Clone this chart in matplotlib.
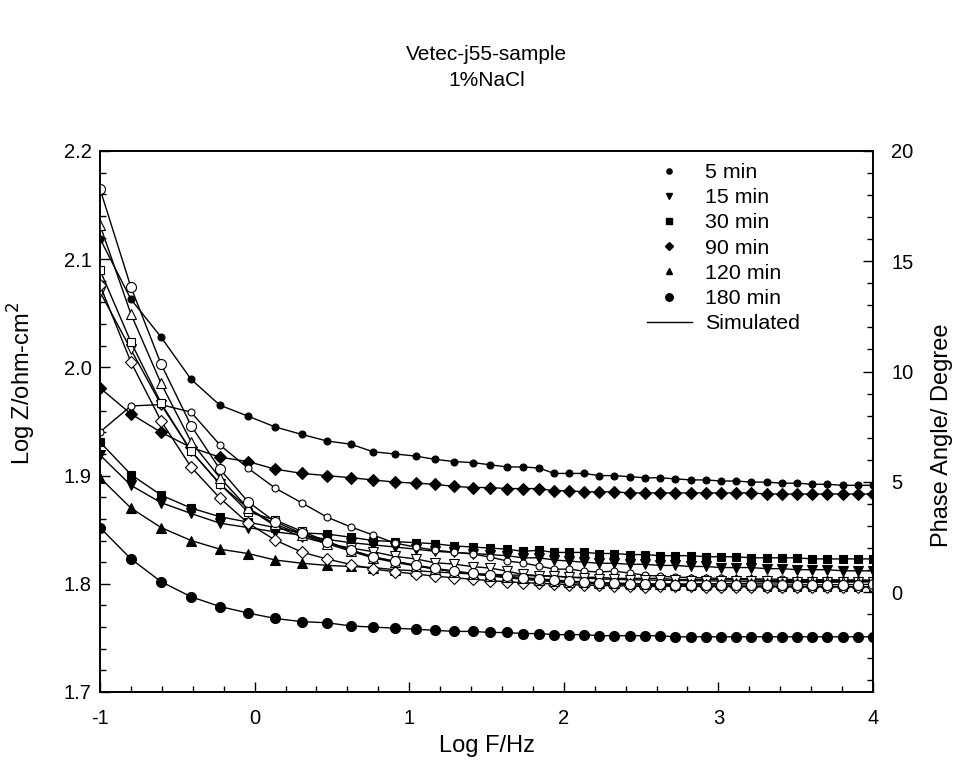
import matplotlib
matplotlib.use("Agg")
import matplotlib.pyplot as plt
from matplotlib.lines import Line2D
from matplotlib.ticker import MultipleLocator, FormatStrFormatter

plt.rcParams['font.family'] = ['Liberation Sans', 'DejaVu Sans']
plt.rcParams['axes.unicode_minus'] = False
FS = 14.5

# ---------------- data ----------------
log_f = [-1.0, -0.8, -0.605, -0.411, -0.224, -0.043, 0.132, 0.307, 0.468, 0.624,
         0.766, 0.908, 1.044, 1.167, 1.290, 1.413, 1.523, 1.633, 1.736, 1.840,
         1.937, 2.034, 2.131, 2.228, 2.325, 2.428, 2.525, 2.622, 2.719, 2.823,
         2.920, 3.017, 3.114, 3.211, 3.314, 3.411, 3.508, 3.605, 3.703, 3.806,
         3.903, 4.0]

labels = ['5 min', '15 min', '30 min', '90 min', '120 min', '180 min']

logz_5 = [2.119, 2.063, 2.028, 1.989, 1.965, 1.955, 1.945, 1.938, 1.932, 1.929,
          1.922, 1.920, 1.918, 1.915, 1.913, 1.912, 1.910, 1.908, 1.908, 1.907,
          1.902, 1.902, 1.902, 1.900, 1.900, 1.899, 1.898, 1.898, 1.897, 1.896,
          1.896, 1.895, 1.895, 1.894, 1.894, 1.893, 1.893, 1.892, 1.892, 1.891,
          1.891, 1.891]
logz_15 = [1.919, 1.891, 1.875, 1.865, 1.856, 1.852, 1.848, 1.845, 1.841, 1.838,
           1.836, 1.834, 1.832, 1.830, 1.829, 1.828, 1.827, 1.826, 1.824, 1.824,
           1.822, 1.821, 1.820, 1.819, 1.819, 1.818, 1.818, 1.817, 1.817, 1.816,
           1.816, 1.815, 1.815, 1.815, 1.814, 1.814, 1.813, 1.813, 1.813, 1.812,
           1.812, 1.812]
logz_30 = [1.931, 1.901, 1.882, 1.870, 1.862, 1.857, 1.852, 1.847, 1.846, 1.843,
           1.840, 1.839, 1.838, 1.837, 1.835, 1.834, 1.833, 1.832, 1.830, 1.831,
           1.829, 1.829, 1.829, 1.828, 1.828, 1.827, 1.827, 1.826, 1.826, 1.826,
           1.825, 1.825, 1.825, 1.824, 1.824, 1.824, 1.824, 1.823, 1.823, 1.823,
           1.823, 1.823]
logz_90 = [1.981, 1.957, 1.940, 1.926, 1.917, 1.913, 1.906, 1.902, 1.900, 1.898,
           1.896, 1.894, 1.893, 1.892, 1.890, 1.889, 1.889, 1.888, 1.888, 1.888,
           1.886, 1.886, 1.885, 1.885, 1.885, 1.884, 1.884, 1.884, 1.884, 1.884,
           1.884, 1.884, 1.884, 1.884, 1.883, 1.883, 1.883, 1.883, 1.883, 1.883,
           1.883, 1.883]
logz_120 = [1.898, 1.870, 1.852, 1.840, 1.832, 1.828, 1.822, 1.819, 1.817, 1.816,
            1.815, 1.813, 1.812, 1.811, 1.810, 1.809, 1.809, 1.808, 1.808, 1.807,
            1.807, 1.806, 1.806, 1.806, 1.805, 1.805, 1.805, 1.805, 1.804, 1.804,
            1.804, 1.804, 1.804, 1.804, 1.803, 1.803, 1.803, 1.803, 1.803, 1.803,
            1.803, 1.803]
logz_180 = [1.852, 1.823, 1.802, 1.788, 1.779, 1.773, 1.768, 1.765, 1.764, 1.761,
            1.760, 1.759, 1.758, 1.757, 1.756, 1.756, 1.755, 1.755, 1.754, 1.754,
            1.753, 1.753, 1.753, 1.752, 1.752, 1.752, 1.752, 1.752, 1.751, 1.751,
            1.751, 1.751, 1.751, 1.751, 1.751, 1.751, 1.751, 1.751, 1.751, 1.751,
            1.751, 1.751]

phase_5 = [7.26, 8.44, 8.50, 8.16, 6.67, 5.62, 4.72, 4.04, 3.40, 2.95,
           2.59, 2.22, 2.04, 1.90, 1.81, 1.72, 1.59, 1.41, 1.32, 1.18,
           1.04, 1.04, 0.95, 0.91, 0.95, 0.86, 0.77, 0.72, 0.68, 0.66,
           0.64, 0.62, 0.61, 0.60, 0.59, 0.58, 0.57, 0.56, 0.56, 0.55,
           0.55, 0.54]
phase_15 = [13.61, 11.0, 8.50, 6.40, 4.90, 3.80, 3.00, 2.50, 2.20, 2.00,
            1.83, 1.62, 1.50, 1.33, 1.27, 1.15, 1.09, 0.95, 0.80, 0.75,
            0.73, 0.68, 0.63, 0.60, 0.58, 0.56, 0.55, 0.54, 0.53, 0.52,
            0.51, 0.50, 0.50, 0.49, 0.49, 0.48, 0.48, 0.48, 0.47, 0.47,
            0.47, 0.47]
phase_30 = [14.60, 11.34, 8.57, 6.39, 4.90, 3.64, 3.27, 2.75, 2.30, 1.90,
            1.60, 1.38, 1.20, 1.05, 0.93, 0.82, 0.73, 0.65, 0.58, 0.52,
            0.47, 0.43, 0.40, 0.37, 0.35, 0.33, 0.31, 0.30, 0.29, 0.28,
            0.27, 0.27, 0.26, 0.26, 0.25, 0.25, 0.25, 0.24, 0.24, 0.24,
            0.24, 0.24]
phase_90 = [13.92, 10.43, 7.76, 5.67, 4.26, 3.13, 2.36, 1.81, 1.50, 1.25,
            1.05, 0.92, 0.82, 0.72, 0.65, 0.58, 0.52, 0.47, 0.43, 0.40,
            0.37, 0.34, 0.32, 0.30, 0.29, 0.28, 0.24, 0.27, 0.26, 0.26,
            0.25, 0.25, 0.25, 0.24, 0.24, 0.24, 0.24, 0.24, 0.24, 0.24,
            0.24, 0.24]
phase_120 = [16.64, 12.61, 9.46, 6.82, 5.18, 3.81, 3.08, 2.60, 2.20, 1.85,
             1.55, 1.35, 1.18, 1.05, 0.93, 0.83, 0.75, 0.68, 0.62, 0.57,
             0.52, 0.48, 0.45, 0.42, 0.40, 0.39, 0.38, 0.37, 0.37, 0.37,
             0.38, 0.38, 0.39, 0.40, 0.41, 0.42, 0.43, 0.44, 0.45, 0.46,
             0.47, 0.48]
phase_180 = [18.28, 13.83, 10.34, 7.55, 5.57, 4.10, 3.19, 2.66, 2.25, 1.90,
             1.60, 1.40, 1.22, 1.08, 0.95, 0.85, 0.78, 0.72, 0.66, 0.60,
             0.55, 0.50, 0.46, 0.42, 0.40, 0.38, 0.36, 0.35, 0.34, 0.33,
             0.33, 0.32, 0.32, 0.32, 0.32, 0.32, 0.33, 0.33, 0.33, 0.34,
             0.34, 0.35]

logz_series = [logz_5, logz_15, logz_30, logz_90, logz_120, logz_180]
phase_series = [phase_5, phase_15, phase_30, phase_90, phase_120, phase_180]

# ---------------- styles ----------------
markers = ['o', 'v', 's', 'D', '^', 'o']
msizes = [5.0, 6.5, 6.0, 6.0, 6.5, 7.2]

fig = plt.figure(figsize=(9.56, 7.75), dpi=100)
ax = fig.add_axes([100/956, 1-692/775, 773/956, 541/775])
ax2 = ax.twinx()

for ys, m, ms in zip(logz_series, markers, msizes):
    ax.plot(log_f, ys, color='k', lw=1.0, marker=m, ms=ms,
            mfc='k', mec='k', mew=0.8)
for ys, m, ms in zip(phase_series, markers, msizes):
    ax2.plot(log_f, ys, color='k', lw=1.0, marker=m, ms=ms,
             mfc='white', mec='k', mew=0.8)

ax.set_xlim(-1, 4)
ax.set_ylim(1.7, 2.2)
ax2.set_ylim(-4.53, 20)

ax.xaxis.set_major_locator(MultipleLocator(1))
ax.xaxis.set_minor_locator(MultipleLocator(0.2))
ax.yaxis.set_major_locator(MultipleLocator(0.1))
ax.yaxis.set_minor_locator(MultipleLocator(0.02))
ax2.yaxis.set_minor_locator(MultipleLocator(1))
ax2.set_yticks([0, 5, 10, 15, 20])

ax.tick_params(axis='both', which='both', direction='in', top=False, right=False,
               labelsize=FS)
ax.tick_params(axis='both', which='major', length=7, width=1)
ax.tick_params(axis='both', which='minor', length=4, width=1)
ax.tick_params(axis='x', which='major', pad=12)
ax.tick_params(axis='y', which='major', pad=6)
ax2.tick_params(axis='y', which='both', direction='in', labelsize=FS)
ax2.tick_params(axis='y', which='major', length=7, width=1, pad=13)
ax2.tick_params(axis='y', which='minor', length=4, width=1)
ax.yaxis.set_major_formatter(FormatStrFormatter('%.1f'))

for a in (ax, ax2):
    for s in a.spines.values():
        s.set_linewidth(1.2)

ax.set_xlabel('Log F/Hz', fontsize=17, labelpad=5)
ax.set_ylabel('Log Z/ohm-cm$^2$', fontsize=17)
ax2.set_ylabel('Phase Angle/ Degree', fontsize=17)
ax.yaxis.set_label_coords((38-100)/773, (692-383)/541)
ax2.yaxis.set_label_coords(1 + (931-873)/773, (692-435)/541)

fig.text(486.5/956, 1-55/775, 'Vetec-j55-sample', ha='center', va='center', fontsize=15)
fig.text(486.5/956, 1-80/775, '1%NaCl', ha='center', va='center', fontsize=15)

handles = [Line2D([], [], ls='none', marker=m, ms=ms*0.75, mfc='k', mec='k')
           for m, ms in zip(markers, msizes)]
handles.append(Line2D([], [], color='k', lw=1.0))
leg = ax.legend(handles, labels + ['Simulated'], loc='upper left',
                bbox_to_anchor=((647-100)/773, 1-(163-151)/541),
                frameon=False, fontsize=15.4, borderpad=0, borderaxespad=0,
                handlelength=2.1, handletextpad=0.6, labelspacing=0.29)

fig.savefig('out.png', dpi=100)
